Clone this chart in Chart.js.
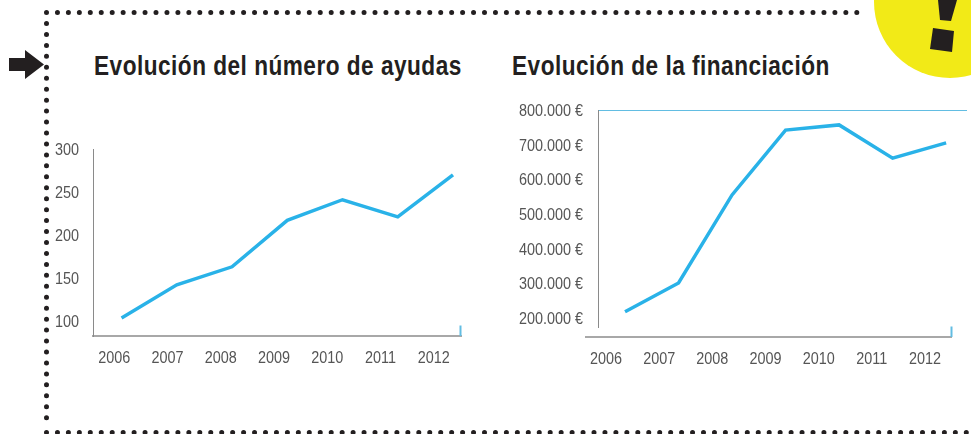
<!DOCTYPE html>
<html lang="es">
<head>
<meta charset="utf-8">
<script src="https://cdn.jsdelivr.net/npm/chart.js@4"></script>
<style>
html,body{margin:0;padding:0;background:#fff;width:971px;height:434px;overflow:hidden}
svg.bg{position:absolute;left:0;top:0}
canvas{position:absolute}
#w1{position:absolute;left:40px;top:130px;width:430px;height:240px}
#w2{position:absolute;left:500px;top:90px;width:471px;height:280px}
.t{position:absolute;top:49px;font:bold 28px "Liberation Sans",sans-serif;letter-spacing:.6px;color:#231f20;white-space:nowrap;line-height:34px;transform:scaleX(.808);transform-origin:0 50%}
</style>
</head>
<body>
<svg class="bg" width="971" height="434">
  <circle cx="950" cy="2" r="76" fill="#f2ea17"/>
  <polygon points="938,0 957,0 951,21 940,20" fill="#231f20"/>
  <polygon points="933,28 954,31 952,52 930,49" fill="#231f20"/>
  <polygon points="9,58 25,58 25,50 44,64.5 25,79 25,71 9,71" fill="#231f20"/>
  <g stroke="#231f20" stroke-width="5" stroke-linecap="round" stroke-dasharray="0 10.95" fill="none">
    <line x1="46.5" y1="12.5" x2="858" y2="12.5"/>
    <line x1="46.5" y1="23.5" x2="46.5" y2="427"/>
    <line x1="46.5" y1="432.5" x2="971" y2="432.5"/>
  </g>
</svg>
<div class="t" id="t1" style="left:94px">Evolución del número de ayudas</div>
<div class="t" id="t2" style="left:512px">Evolución de la financiación</div>
<div id="w1"><canvas id="c1" width="430" height="240"></canvas></div>
<div id="w2"><canvas id="c2" width="471" height="280"></canvas></div>
<script>
const categories = [2006, 2007, 2008, 2009, 2010, 2011, 2012];
const ayudas = [103.5, 142, 163, 217, 241, 221, 270];
const financiacion = [218000, 301000, 555000, 742000, 757000, 661000, 705000];
const ticksAyudas = [100, 150, 200, 250, 300];
const ticksFinanciacion = [200000, 300000, 400000, 500000, 600000, 700000, 800000];

const FONT = {family:'"Liberation Sans",sans-serif', size:16};
const TEXT = '#555555', AXIS = '#a8a8a8', LEFT = '#8a8a8a', BLUE = '#29b2e8', THIN = '#62bde2';
const euro = v => String(v).replace(/\B(?=(\d{3})+$)/g, '.') + ' €';
const setTicks = vals => s => { s.ticks = vals.map(value => ({value})); };

// Condensed tick text: no narrow face is installed, so fit each label to a narrower width.
const condense = {
  id:'condense',
  beforeInit(chart){
    const ctx = chart.ctx, draw = ctx.fillText.bind(ctx);
    ctx.fillText = (t, x, y) => draw(t, x, y + 1.5, ctx.measureText(t).width * 0.9);
  }
};

const axisExtras = o => ({
  id:'axisExtras',
  afterDraw(chart){
    const {ctx, chartArea:a} = chart;
    const y = a.bottom + o.dy;
    ctx.save();
    if (o.line) {
      ctx.strokeStyle = AXIS; ctx.lineWidth = 2;
      ctx.beginPath(); ctx.moveTo(a.left + o.x0, y); ctx.lineTo(a.right + o.x1, y); ctx.stroke();
    }
    ctx.strokeStyle = THIN; ctx.lineWidth = 2;
    ctx.beginPath(); ctx.moveTo(a.right + o.x1 - 0.5, y); ctx.lineTo(a.right + o.x1 - 0.5, y - 10.5); ctx.stroke();
    ctx.restore();
  }
});

function build(id, cfg){
  return new Chart(document.getElementById(id), {
    type:'line',
    data:{datasets:[{
      data:categories.map((c,i)=>({x:c,y:cfg.values[i]})),
      xAxisID:'xData', yAxisID:'y',
      borderColor:BLUE, borderWidth:3.5, tension:0, pointRadius:0,
      borderCapStyle:'butt', borderJoinStyle:'miter', fill:false, clip:false
    }]},
    options:{
      responsive:false, animation:false, events:[],
      layout:{padding:cfg.padding},
      plugins:{legend:{display:false},title:{display:false},tooltip:{enabled:false}},
      scales:{
        xData:{type:'linear', axis:'x', position:'bottom', display:false, min:cfg.dataMin, max:cfg.dataMax},
        x:{type:'linear', position:'bottom', min:cfg.labMin, max:cfg.labMax,
           afterBuildTicks:setTicks(categories),
           afterFit:s=>{s.height=cfg.xH; s.paddingLeft=0; s.paddingRight=0;},
           grid:{display:false, drawTicks:false},
           border:{display:cfg.xBorder, color:AXIS, width:2},
           ticks:{autoSkip:false, maxRotation:0, color:TEXT, font:FONT, padding:cfg.xPad, callback:v=>String(v)}},
        y:{type:'linear', position:'left', min:cfg.yMin, max:cfg.yMax,
           afterBuildTicks:setTicks(cfg.yTicks),
           afterFit:s=>{s.width=cfg.yW; s.paddingTop=0; s.paddingBottom=0;},
           grid:{display:cfg.topLine, drawTicks:false, color:c=>c.tick && c.tick.value===cfg.yMax ? THIN : 'rgba(0,0,0,0)'},
           border:{display:true, color:LEFT, width:1},
           ticks:{autoSkip:false, color:TEXT, font:FONT, padding:cfg.yPad, callback:cfg.fmt}}
      }
    },
    plugins:[condense, axisExtras(cfg.extra)]
  });
}

build('c1',{
  values:ayudas, yTicks:ticksAyudas, yMin:82.5, yMax:300, fmt:v=>String(v),
  padding:{top:19,right:9,bottom:0,left:0}, yW:53, xH:34, yPad:14, xPad:11,
  dataMin:2005.483, dataMax:2012.145, labMin:2005.6, labMax:2012.51,
  xBorder:true, topLine:false, extra:{dy:0,line:false,x0:0,x1:0}
});
build('c2',{
  values:financiacion, yTicks:ticksFinanciacion, yMin:174000, yMax:800000, fmt:euro,
  padding:{top:20,right:4,bottom:0,left:0}, yW:98, xH:43, yPad:15, xPad:21,
  dataMin:2005.495, dataMax:2012.39, labMin:2005.85, labMax:2012.79,
  xBorder:false, topLine:true, extra:{dy:10,line:true,x0:-13,x1:-15}
});
</script>
</body>
</html>
